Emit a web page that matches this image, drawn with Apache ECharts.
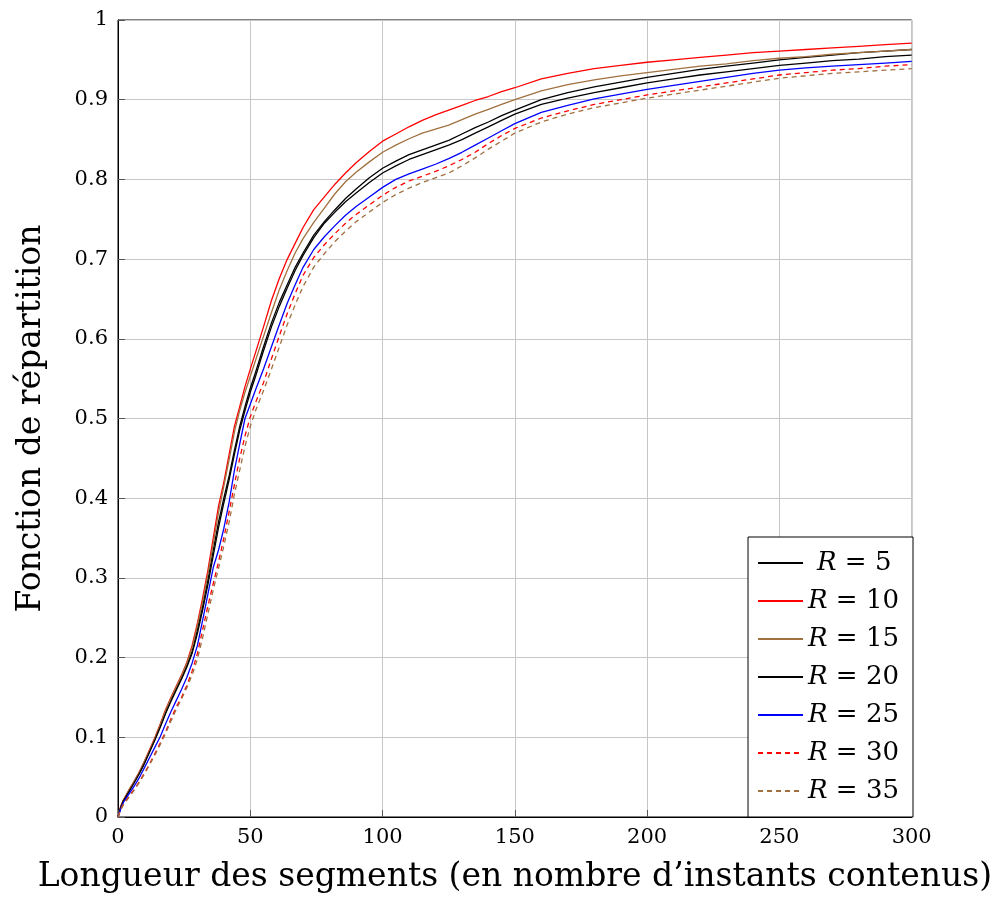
<!DOCTYPE html>
<html lang="fr">

<head>
    <meta charset="UTF-8">
    <title>Fonction de répartition</title>
    <script src="https://cdn.jsdelivr.net/npm/echarts@6/dist/echarts.min.js"></script>
    <style>
        html, body { margin: 0; padding: 0; background: #fff; }
        #chart { width: 995px; height: 903px; }
    </style>
</head>

<body>
    <div id="chart"></div>

    <script>
        var xs = [0, 1, 2, 4, 6, 8, 10, 12, 14, 16, 18, 20, 22, 24, 26, 28, 30, 32, 34, 36, 38, 40, 42, 44, 46, 48, 50,
            52, 55, 58, 61, 64, 67, 70, 74, 78, 82, 86, 90, 95, 100, 105, 110, 115, 120, 125, 130, 135, 140, 145, 150,
            160, 170, 180, 190, 200, 210, 220, 230, 240, 250, 260, 270, 280, 290, 300];

        var seriesNames = ['R = 5', 'R = 10', 'R = 15', 'R = 20', 'R = 25', 'R = 30', 'R = 35'];

        var r5 = [0, 0.012, 0.02, 0.032, 0.043, 0.055, 0.068, 0.083, 0.098, 0.114, 0.131, 0.147, 0.161, 0.175, 0.19, 0.208, 0.235, 0.265, 0.298, 0.335, 0.37, 0.4, 0.428, 0.46, 0.49, 0.515, 0.538,
            0.558, 0.59, 0.62, 0.646, 0.668, 0.69, 0.708, 0.73, 0.747, 0.762, 0.776, 0.788, 0.802, 0.814, 0.823, 0.831, 0.837, 0.843, 0.849, 0.857, 0.865, 0.872, 0.88, 0.887,
            0.9, 0.909, 0.916, 0.922, 0.928, 0.933, 0.938, 0.942, 0.946, 0.95, 0.953, 0.956, 0.959, 0.961, 0.963];
        var r10 = [0, 0.013, 0.021, 0.033, 0.044, 0.056, 0.07, 0.085, 0.1, 0.117, 0.135, 0.15, 0.164, 0.178, 0.194, 0.215, 0.243, 0.275, 0.31, 0.35, 0.39, 0.42, 0.455, 0.49, 0.515, 0.54, 0.562,
            0.583, 0.615, 0.648, 0.676, 0.7, 0.72, 0.74, 0.762, 0.778, 0.794, 0.808, 0.821, 0.835, 0.848, 0.857, 0.866, 0.874, 0.881, 0.887, 0.893, 0.899, 0.904, 0.91, 0.915,
            0.926, 0.933, 0.939, 0.943, 0.947, 0.95, 0.953, 0.956, 0.959, 0.961, 0.963, 0.965, 0.967, 0.969, 0.971];
        var r15 = [0, 0.013, 0.021, 0.033, 0.044, 0.056, 0.07, 0.084, 0.099, 0.116, 0.134, 0.149, 0.163, 0.177, 0.193, 0.212, 0.24, 0.27, 0.305, 0.343, 0.382, 0.415, 0.448, 0.483, 0.51, 0.533, 0.553,
            0.573, 0.603, 0.633, 0.662, 0.686, 0.708, 0.726, 0.746, 0.764, 0.782, 0.797, 0.809, 0.822, 0.834, 0.843, 0.851, 0.858, 0.863, 0.868, 0.875, 0.882, 0.888, 0.894, 0.9,
            0.911, 0.919, 0.925, 0.93, 0.934, 0.938, 0.942, 0.945, 0.949, 0.952, 0.954, 0.957, 0.959, 0.961, 0.963];
        var r20 = [0, 0.012, 0.02, 0.031, 0.042, 0.054, 0.067, 0.082, 0.097, 0.113, 0.13, 0.145, 0.159, 0.173, 0.188, 0.205, 0.23, 0.26, 0.292, 0.328, 0.363, 0.394, 0.423, 0.455, 0.485, 0.51, 0.533,
            0.553, 0.585, 0.615, 0.641, 0.664, 0.686, 0.705, 0.727, 0.745, 0.759, 0.772, 0.783, 0.796, 0.808, 0.817, 0.825, 0.831, 0.837, 0.843, 0.85, 0.858, 0.866, 0.874, 0.882,
            0.894, 0.902, 0.909, 0.915, 0.921, 0.926, 0.931, 0.935, 0.939, 0.943, 0.946, 0.949, 0.951, 0.954, 0.956];
        var r25 = [0, 0.01, 0.018, 0.028, 0.038, 0.049, 0.062, 0.075, 0.088, 0.101, 0.117, 0.132, 0.146, 0.16, 0.175, 0.193, 0.215, 0.247, 0.28, 0.313, 0.335, 0.362, 0.395, 0.435, 0.468, 0.5, 0.518,
            0.536, 0.562, 0.59, 0.618, 0.645, 0.668, 0.69, 0.712, 0.728, 0.742, 0.755, 0.766, 0.778, 0.79, 0.8, 0.807, 0.813, 0.819, 0.826, 0.834, 0.843, 0.852, 0.861, 0.87,
            0.884, 0.893, 0.901, 0.907, 0.913, 0.918, 0.923, 0.928, 0.933, 0.937, 0.94, 0.942, 0.944, 0.946, 0.948];
        var r30 = [0, 0.009, 0.016, 0.025, 0.034, 0.044, 0.055, 0.067, 0.08, 0.093, 0.107, 0.123, 0.138, 0.15, 0.165, 0.183, 0.205, 0.235, 0.265, 0.293, 0.32, 0.35, 0.383, 0.417, 0.45, 0.478, 0.502,
            0.52, 0.545, 0.575, 0.604, 0.632, 0.657, 0.68, 0.702, 0.718, 0.732, 0.745, 0.756, 0.768, 0.78, 0.79, 0.798, 0.804, 0.81, 0.817, 0.825, 0.834, 0.845, 0.855, 0.864,
            0.877, 0.886, 0.894, 0.9, 0.906, 0.911, 0.916, 0.921, 0.926, 0.931, 0.934, 0.937, 0.939, 0.942, 0.944];
        var r35 = [0, 0.009, 0.015, 0.024, 0.033, 0.043, 0.054, 0.066, 0.078, 0.091, 0.105, 0.12, 0.135, 0.148, 0.162, 0.178, 0.198, 0.225, 0.255, 0.285, 0.312, 0.34, 0.37, 0.405, 0.435, 0.465, 0.49,
            0.51, 0.535, 0.562, 0.59, 0.618, 0.643, 0.666, 0.69, 0.707, 0.722, 0.735, 0.747, 0.759, 0.771, 0.781, 0.789, 0.796, 0.802, 0.808, 0.817, 0.827, 0.838, 0.848, 0.858,
            0.872, 0.882, 0.89, 0.896, 0.902, 0.907, 0.912, 0.917, 0.922, 0.927, 0.93, 0.933, 0.935, 0.937, 0.939];

        var allValues = [r5, r10, r15, r20, r25, r30, r35];
        var colors = ['#000000', '#ff0000', '#a0703f', '#000000', '#0000ff', '#ff0000', '#a0703f'];
        var dashes = ['solid', 'solid', 'solid', 'solid', 'solid', [5, 4], [5, 4]];

        var font = 'DejaVu Serif';

        var myChart = echarts.init(document.getElementById('chart'));

        var series = [];
        for (var i = 0; i < seriesNames.length; i++) {
            var pts = [];
            for (var j = 0; j < xs.length; j++) {
                pts.push([xs[j], allValues[i][j]]);
            }
            series.push({
                name: seriesNames[i],
                type: 'line',
                symbol: 'none',
                animation: false,
                lineStyle: { color: colors[i], width: 1.3, type: dashes[i] },
                itemStyle: { color: colors[i] },
                data: pts
            });
        }

        var option = {
            animation: false,
            grid: {
                left: 118, right: 82, top: 20, bottom: 86,
                show: true, borderColor: '#000', borderWidth: 1
            },
            legend: {
                orient: 'vertical',
                right: 82,
                bottom: 86,
                itemWidth: 45,
                itemHeight: 14,
                itemGap: 8,
                padding: [11, 14, 11, 9],
                backgroundColor: '#fff',
                borderColor: '#000',
                borderWidth: 1,
                borderRadius: 0,
                itemStyle: { opacity: 0, borderWidth: 0 },
                data: seriesNames,
                formatter: function (name) {
                    // R = 5 est centré dans la colonne
                    var pad = name.length < 6 ? '{p| }' : '';
                    return pad + '{i|R}' + name.substring(1);
                },
                textStyle: {
                    fontFamily: font,
                    fontSize: 26,
                    lineHeight: 30,
                    color: '#000',
                    rich: {
                        i: { fontFamily: font, fontStyle: 'italic', fontSize: 26, lineHeight: 30 },
                        p: { width: 9, fontSize: 26, lineHeight: 30 }
                    }
                }
            },
            xAxis: {
                type: 'value',
                min: 0,
                max: 300,
                interval: 50,
                name: 'Longueur des segments (en nombre d’instants contenus)',
                nameLocation: 'middle',
                nameGap: 44,
                nameTextStyle: { fontFamily: font, fontSize: 33, color: '#000' },
                axisLine: { show: true, lineStyle: { color: '#000' } },
                axisTick: { show: true, inside: true, length: 7, lineStyle: { color: '#555' } },
                axisLabel: { fontFamily: font, fontSize: 21, color: '#000', margin: 10 },
                splitLine: { show: true, lineStyle: { color: '#c6c6c6', width: 1 } }
            },
            yAxis: {
                type: 'value',
                min: 0,
                max: 1,
                interval: 0.1,
                name: 'Fonction de répartition',
                nameLocation: 'middle',
                nameGap: 70,
                nameTextStyle: { fontFamily: font, fontSize: 33, color: '#000' },
                axisLine: { show: true, lineStyle: { color: '#000' } },
                axisTick: { show: true, inside: true, length: 7, lineStyle: { color: '#555' } },
                axisLabel: { fontFamily: font, fontSize: 21, color: '#000', margin: 10 },
                splitLine: { show: true, lineStyle: { color: '#c6c6c6', width: 1 } }
            },
            series: series
        };

        myChart.setOption(option);
    </script>
</body>

</html>
